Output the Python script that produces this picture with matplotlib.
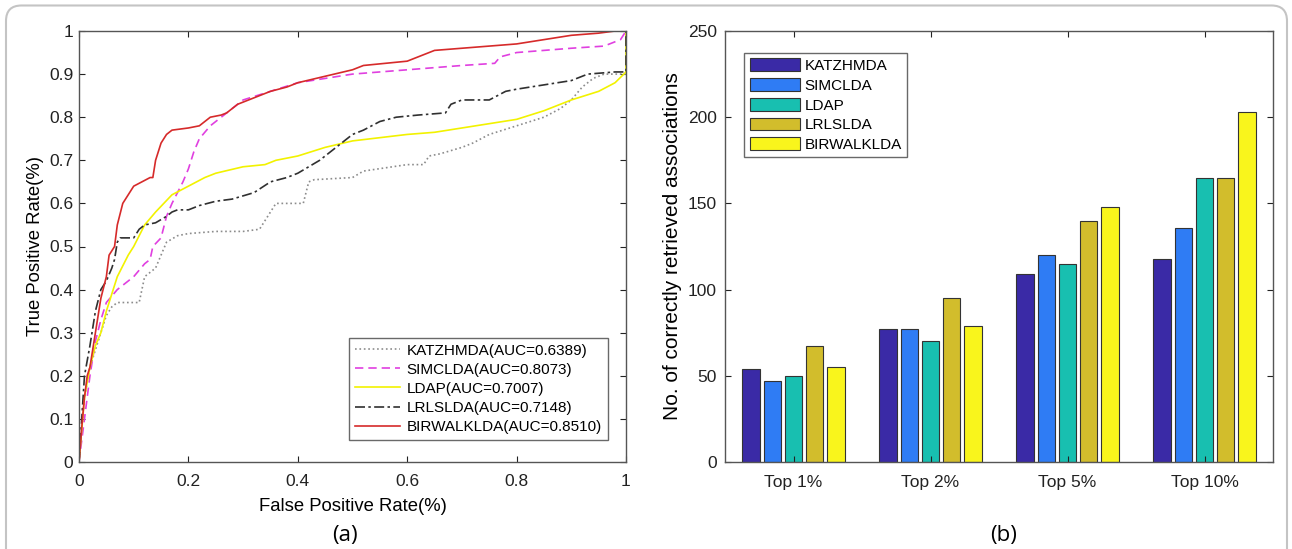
import matplotlib.pyplot as plt
import numpy as np
from matplotlib.patches import FancyBboxPatch

plt.rcParams["font.family"] = ["Liberation Sans", "DejaVu Sans"]

# ROC curves (a)
katz_fpr = [0, 0.01, 0.02, 0.03, 0.04, 0.05, 0.06, 0.07, 0.11, 0.12, 0.13, 0.14, 0.15, 0.16, 0.18,
            0.2, 0.25, 0.3, 0.33, 0.34, 0.35, 0.36, 0.41, 0.42, 0.43, 0.5, 0.52, 0.6, 0.63, 0.64,
            0.66, 0.7, 0.72, 0.75, 0.8, 0.85, 0.88, 0.9, 0.92, 0.94, 0.96, 1.0, 1.0]
katz_tpr = [0, 0.15, 0.22, 0.26, 0.3, 0.34, 0.36, 0.37, 0.37, 0.43, 0.44, 0.45, 0.48, 0.51, 0.525,
            0.53, 0.535, 0.535, 0.54, 0.56, 0.58, 0.6, 0.6, 0.65, 0.655, 0.66, 0.675, 0.69, 0.69, 0.71,
            0.715, 0.73, 0.74, 0.76, 0.78, 0.8, 0.82, 0.84, 0.87, 0.89, 0.9, 0.9, 1.0]

simc_fpr = [0, 0.01, 0.02, 0.03, 0.04, 0.05, 0.07, 0.1, 0.12, 0.13, 0.135, 0.15, 0.16, 0.17, 0.19,
            0.2, 0.21, 0.22, 0.24, 0.26, 0.28, 0.3, 0.35, 0.4, 0.45, 0.5, 0.6, 0.7, 0.76, 0.77,
            0.8, 0.9, 0.96, 0.99, 1.0]
simc_tpr = [0, 0.1, 0.2, 0.28, 0.33, 0.37, 0.4, 0.43, 0.46, 0.47, 0.5, 0.52, 0.57, 0.6, 0.65,
            0.68, 0.72, 0.75, 0.78, 0.8, 0.82, 0.84, 0.86, 0.88, 0.89, 0.9, 0.91, 0.92, 0.925, 0.94,
            0.95, 0.96, 0.965, 0.98, 1.0]

ldap_fpr = [0, 0.01, 0.02, 0.03, 0.04, 0.05, 0.07, 0.09, 0.1, 0.12, 0.14, 0.17, 0.2, 0.23, 0.25,
            0.3, 0.34, 0.36, 0.4, 0.45, 0.5, 0.6, 0.65, 0.7, 0.8, 0.85, 0.9, 0.95, 0.98, 1.0, 1.0]
ldap_tpr = [0, 0.15, 0.22, 0.27, 0.3, 0.35, 0.43, 0.48, 0.5, 0.55, 0.58, 0.62, 0.64, 0.66, 0.67,
            0.685, 0.69, 0.7, 0.71, 0.73, 0.745, 0.76, 0.765, 0.775, 0.795, 0.815, 0.84, 0.86, 0.88, 0.905, 1.0]

lrls_fpr = [0, 0.005, 0.01, 0.02, 0.03, 0.04, 0.05, 0.06, 0.065, 0.07, 0.075, 0.1, 0.11, 0.12, 0.14,
            0.16, 0.17, 0.18, 0.2, 0.22, 0.25, 0.28, 0.32, 0.35, 0.38, 0.4, 0.42, 0.44, 0.46, 0.48,
            0.5, 0.52, 0.55, 0.58, 0.62, 0.67, 0.68, 0.7, 0.75, 0.78, 0.8, 0.85, 0.9, 0.93, 0.98, 1.0, 1.0]
lrls_tpr = [0, 0.1, 0.2, 0.27, 0.35, 0.4, 0.42, 0.45, 0.47, 0.51, 0.52, 0.52, 0.54, 0.55, 0.555,
            0.57, 0.58, 0.585, 0.585, 0.595, 0.605, 0.61, 0.625, 0.65, 0.66, 0.67, 0.685, 0.7, 0.72, 0.74,
            0.76, 0.77, 0.79, 0.8, 0.805, 0.81, 0.83, 0.84, 0.84, 0.86, 0.865, 0.875, 0.885, 0.9, 0.905, 0.905, 1.0]

birw_fpr = [0, 0.005, 0.01, 0.015, 0.02, 0.03, 0.04, 0.05, 0.055, 0.065, 0.07, 0.08, 0.09, 0.1, 0.115,
            0.13, 0.135, 0.14, 0.15, 0.16, 0.17, 0.2, 0.22, 0.23, 0.24, 0.26, 0.27, 0.29, 0.32, 0.35,
            0.38, 0.4, 0.45, 0.5, 0.52, 0.6, 0.62, 0.65, 0.7, 0.8, 0.85, 0.9, 0.95, 0.98, 1.0]
birw_tpr = [0, 0.08, 0.15, 0.2, 0.22, 0.3, 0.38, 0.43, 0.48, 0.5, 0.55, 0.6, 0.62, 0.64, 0.65,
            0.66, 0.66, 0.7, 0.74, 0.76, 0.77, 0.775, 0.78, 0.79, 0.8, 0.805, 0.81, 0.83, 0.845, 0.86,
            0.87, 0.88, 0.895, 0.91, 0.92, 0.93, 0.94, 0.955, 0.96, 0.97, 0.98, 0.99, 0.995, 1.0, 1.0]

# bar chart (b)
categories = ["Top 1%", "Top 2%", "Top 5%", "Top 10%"]
methods = ["KATZHMDA", "SIMCLDA", "LDAP", "LRLSLDA", "BIRWALKLDA"]
katz_counts = [54, 77, 109, 118]
simc_counts = [47, 77, 120, 136]
ldap_counts = [50, 70, 115, 165]
lrls_counts = [67, 95, 140, 165]
birw_counts = [55, 79, 148, 203]

fig = plt.figure(figsize=(12.92, 5.49), dpi=100)

# rounded outer frame
frame = FancyBboxPatch((6 / 1292, -0.05), 1281 / 1292, 1.04, boxstyle="round,pad=0,rounding_size=0.012",
                       transform=fig.transFigure, fill=False, edgecolor="#c4c4c4", linewidth=1.5,
                       mutation_aspect=1292 / 549)
fig.patches.append(frame)

ax1 = fig.add_axes([79 / 1292, 87 / 549, 547 / 1292, 431 / 549])
ax1.plot(katz_fpr, katz_tpr, color="#8c8c8c", linestyle=":", linewidth=1.2, label="KATZHMDA(AUC=0.6389)")
ax1.plot(simc_fpr, simc_tpr, color="#e040e0", linestyle=(0, (5, 3)), linewidth=1.2, label="SIMCLDA(AUC=0.8073)")
ax1.plot(ldap_fpr, ldap_tpr, color="#f2f200", linestyle="-", linewidth=1.2, label="LDAP(AUC=0.7007)")
ax1.plot(lrls_fpr, lrls_tpr, color="#303030", linestyle=(0, (6, 2, 1.5, 2)), linewidth=1.2, label="LRLSLDA(AUC=0.7148)")
ax1.plot(birw_fpr, birw_tpr, color="#d62a2a", linestyle="-", linewidth=1.2, label="BIRWALKLDA(AUC=0.8510)")
ax1.set_xlim(0, 1)
ax1.set_ylim(0, 1)
ax1.set_xticks([0, 0.2, 0.4, 0.6, 0.8, 1])
ax1.set_xticklabels(["0", "0.2", "0.4", "0.6", "0.8", "1"])
ax1.set_yticks(np.arange(0, 1.01, 0.1))
ax1.set_yticklabels(["0", "0.1", "0.2", "0.3", "0.4", "0.5", "0.6", "0.7", "0.8", "0.9", "1"])
ax1.set_xlabel("False Positive Rate(%)", fontsize=13.3, labelpad=6)
ax1.set_ylabel("True Positive Rate(%)", fontsize=13.3, labelpad=4)
ax1.legend(loc="lower right", bbox_to_anchor=(0.967, 0.051), borderaxespad=0, fontsize=11, frameon=True,
           fancybox=False, edgecolor="#444444", handlelength=3.0, labelspacing=0.33, borderpad=0.4,
           handletextpad=0.4)

ax2 = fig.add_axes([725 / 1292, 87 / 549, 548 / 1292, 431 / 549])
x = np.arange(1, len(categories) + 1)
bar_colors = ["#3a2aa6", "#2f7cf4", "#18bfb0", "#d2bd2c", "#f9f51c"]
series = [katz_counts, simc_counts, ldap_counts, lrls_counts, birw_counts]
pitch = 0.155
for i, (name, vals, col) in enumerate(zip(methods, series, bar_colors)):
    ax2.bar(x + (i - 2) * pitch, vals, width=0.125, color=col, edgecolor="#333333", linewidth=0.8, label=name)
ax2.set_xlim(0.5, 4.5)
ax2.set_ylim(0, 250)
ax2.set_xticks(x)
ax2.set_xticklabels(categories)
ax2.set_yticks([0, 50, 100, 150, 200, 250])
ax2.set_ylabel("No. of correctly retrieved associations", fontsize=15, labelpad=4)
ax2.legend(loc="upper left", bbox_to_anchor=(0.035, 0.949), borderaxespad=0, fontsize=11, frameon=True,
           fancybox=False, edgecolor="#444444", handlelength=3.3, handleheight=0.92, labelspacing=0.33,
           borderpad=0.35, handletextpad=0.3)

for ax in (ax1, ax2):
    ax.tick_params(direction="in", top=True, right=True, labelsize=12.5, colors="#222222", length=4)
    ax.tick_params(axis="x", pad=9)
    for s in ax.spines.values():
        s.set_color("#555555")
        s.set_linewidth(1.0)
ax1.tick_params(axis="y", pad=4)
ax2.tick_params(axis="y", pad=6)

fig.text(345 / 1292, 1 - 535 / 549, "(a)", fontsize=16, ha="center", va="center", family="Open Sans")
fig.text(1004 / 1292, 1 - 535 / 549, "(b)", fontsize=16, ha="center", va="center", family="Open Sans")

fig.savefig("out.png", dpi=100)
